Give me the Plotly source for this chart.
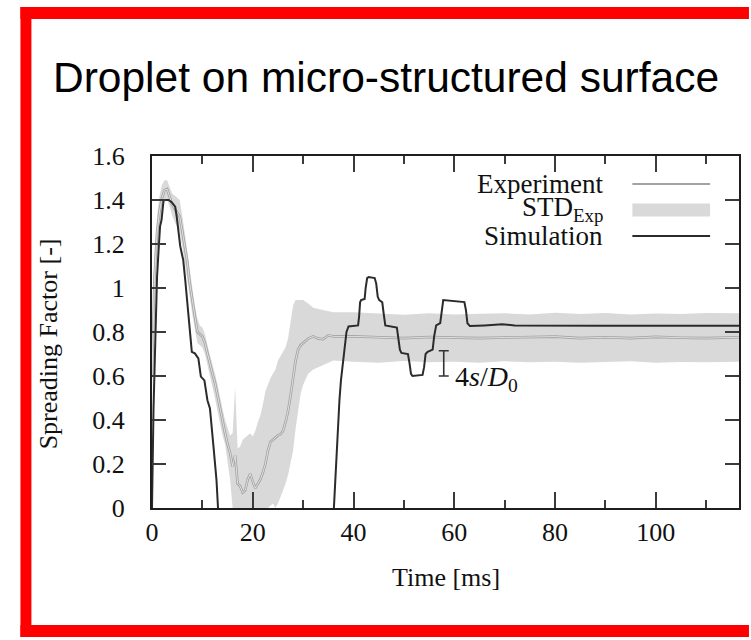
import plotly.graph_objects as go

# ---------------- data ----------------
exp_t = [0, 0.5, 1.0, 1.5, 2.0, 2.5, 3.0, 3.5, 4.0, 4.5, 5.0, 5.5, 6.0, 6.5, 7.0, 7.5, 8.0, 8.5,
         9.0, 9.5, 10.0, 10.5, 11.0, 11.5, 12.0, 12.5, 13.0, 13.5, 14.0, 14.5, 15.0, 15.5, 16.0,
         16.5, 17.0, 17.5, 18.0, 18.5, 19.0, 19.5, 20.0, 20.5, 21.0, 21.5, 22.0, 22.5, 23.0, 23.5,
         24.0, 24.5, 25.0, 25.5, 26.0, 26.5, 27.0, 27.5, 28.0, 28.5, 29.0, 29.5, 30.0, 31.0, 32.0,
         33.0, 34.0, 35.0, 36.0, 40, 45, 50, 55, 60, 65, 70, 75, 80, 85, 90, 95, 100, 105, 110, 116.5]
exp_mean = [0.60, 1.05, 1.25, 1.35, 1.41, 1.445, 1.45, 1.41, 1.38, 1.36, 1.34, 1.325, 1.26, 1.19,
            1.12, 1.02, 0.94, 0.87, 0.80, 0.79, 0.78, 0.75, 0.70, 0.66, 0.61, 0.57, 0.51, 0.445,
            0.39, 0.34, 0.29, 0.25, 0.19, 0.24, 0.11, 0.10, 0.07, 0.08, 0.13, 0.155, 0.12, 0.09,
            0.11, 0.13, 0.16, 0.20, 0.26, 0.30, 0.31, 0.32, 0.33, 0.335, 0.35, 0.39, 0.44, 0.51,
            0.60, 0.67, 0.72, 0.74, 0.75, 0.77, 0.78, 0.77, 0.768, 0.785, 0.78, 0.78, 0.776, 0.772,
            0.777, 0.775, 0.772, 0.775, 0.777, 0.779, 0.772, 0.776, 0.772, 0.778, 0.774, 0.772, 0.776]
exp_upper = [0.70, 1.15, 1.33, 1.42, 1.47, 1.49, 1.49, 1.46, 1.43, 1.42, 1.41, 1.40, 1.33, 1.25,
             1.17, 1.07, 0.99, 0.92, 0.86, 0.83, 0.82, 0.79, 0.74, 0.70, 0.66, 0.61, 0.56, 0.50,
             0.45, 0.40, 0.36, 0.33, 0.34, 0.55, 0.27, 0.28, 0.31, 0.32, 0.33, 0.34, 0.325, 0.35,
             0.39, 0.42, 0.47, 0.53, 0.56, 0.59, 0.61, 0.63, 0.67, 0.69, 0.71, 0.73, 0.77, 0.84,
             0.92, 0.945, 0.945, 0.945, 0.945, 0.93, 0.91, 0.905, 0.90, 0.892, 0.89, 0.89, 0.885,
             0.878, 0.885, 0.88, 0.883, 0.885, 0.88, 0.887, 0.882, 0.886, 0.88, 0.884, 0.882, 0.886, 0.885]
exp_lower = [0.50, 0.95, 1.17, 1.28, 1.35, 1.39, 1.40, 1.37, 1.33, 1.30, 1.28, 1.26, 1.19, 1.12,
             1.05, 0.96, 0.88, 0.81, 0.75, 0.74, 0.73, 0.70, 0.65, 0.61, 0.56, 0.50, 0.44, 0.38,
             0.33, 0.29, 0.21, 0.13, 0.0, 0.0, 0.0, 0.0, 0.0, 0.0, 0.0, 0.0, 0.0, 0.0,
             0.0, 0.0, 0.0, 0.0, 0.0, 0.01, 0.02, 0.0, 0.02, 0.05, 0.08, 0.11, 0.15, 0.20,
             0.26, 0.36, 0.45, 0.52, 0.56, 0.61, 0.63, 0.64, 0.65, 0.66, 0.67, 0.665, 0.66,
             0.668, 0.662, 0.665, 0.66, 0.667, 0.662, 0.665, 0.66, 0.664, 0.667, 0.66, 0.664, 0.662, 0.665]

sim_t = [0, 0.3, 0.75, 1.0, 1.3, 1.6, 1.9, 2.3, 2.7, 3.3, 3.9, 4.6, 4.9, 5.2, 5.6, 5.9, 6.2, 6.6,
         6.9, 7.2, 7.5, 7.9, 8.5, 9.2, 9.7, 10.4, 11.0, 11.5, 12.2, 12.8, 13.1,
         20.0,
         36.1, 36.6, 37.2, 37.5, 38.2, 38.6, 39.0, 40.9, 41.1, 41.3, 41.5, 42.2, 42.4, 42.7, 43.0,
         44.2, 44.5, 44.8, 45.1, 45.7, 46.0, 46.3, 48.6, 48.9, 49.2, 49.5, 50.8, 51.1, 51.4, 51.7,
         53.7, 54.0, 54.3, 54.7, 55.7, 56.0, 56.4, 57.2, 57.5, 57.8, 62.0, 62.3, 62.6, 63.1, 66,
         69.5, 72, 80, 90, 100, 110, 116.5]
sim_y = [0.0, 0.45, 0.84, 1.05, 1.17, 1.28, 1.31, 1.40, 1.40, 1.40, 1.39, 1.37, 1.325, 1.264,
         1.19, 1.158, 1.127, 1.036, 0.96, 0.87, 0.80, 0.71, 0.703, 0.68, 0.597, 0.58, 0.49, 0.453,
         0.28, 0.127, 0.0,
         None,
         0.0, 0.25, 0.49, 0.58, 0.73, 0.80, 0.825, 0.83, 0.87, 0.935, 0.945, 0.95, 1.0, 1.045,
         1.05, 1.045, 1.02, 0.96, 0.945, 0.935, 0.88, 0.83, 0.82, 0.78, 0.72, 0.705, 0.70, 0.66,
         0.61, 0.60, 0.605, 0.64, 0.70, 0.71, 0.72, 0.78, 0.83, 0.84, 0.90, 0.945, 0.936, 0.90,
         0.84, 0.827, 0.83, 0.835, 0.83, 0.828, 0.828, 0.828, 0.828, 0.828]

# scale bar "4s/D0"
bar_t = [57.9]
bar_center = [0.6575]
bar_half = [0.0575]

y_ticks = [0, 0.2, 0.4, 0.6, 0.8, 1.0, 1.2, 1.4, 1.6]
x_ticks = [0, 20, 40, 60, 80, 100]

# ---------------- style ----------------
SERIF = "Liberation Serif"
BAND = "#d9d9d9"
EXP = "#a3a3a3"
SIM = "#2b2b2b"
AX = "#1e1e1e"
RED = "#ff0000"

L, R, T, B = 152, 10, 156, 132
W, H = 751, 640
pw, ph = W - L - R, H - T - B


def px(x):
    return (x - L) / pw


def py(y):
    return (H - B - y) / ph


fig = go.Figure()

fig.add_trace(go.Scatter(x=exp_t, y=exp_lower, mode="lines", line=dict(width=0, color=BAND),
                         hoverinfo="skip", showlegend=False))
fig.add_trace(go.Scatter(x=exp_t, y=exp_upper, mode="lines", line=dict(width=0, color=BAND),
                         fill="tonexty", fillcolor=BAND, hoverinfo="skip", showlegend=False))
fig.add_trace(go.Scatter(x=exp_t, y=exp_mean, mode="lines", line=dict(width=2.6, color=EXP),
                         showlegend=False))
fig.add_trace(go.Scatter(x=exp_t, y=exp_mean, mode="lines", line=dict(width=0.8, color="#efefef"),
                         showlegend=False, hoverinfo="skip"))
fig.add_trace(go.Scatter(x=sim_t, y=sim_y, mode="lines", line=dict(width=2, color=SIM),
                         connectgaps=False, showlegend=False))
fig.add_trace(go.Scatter(x=bar_t, y=bar_center, mode="markers", marker=dict(size=1, opacity=0),
                         error_y=dict(type="data", array=bar_half, color="#333333", thickness=1.6,
                                      width=5),
                         showlegend=False, hoverinfo="skip"))

axis_common = dict(showline=True, linecolor=AX, linewidth=2, mirror="ticks", ticks="inside",
                   tickcolor="#3a3a3a", tickwidth=1.5, showgrid=False, zeroline=False,
                   tickfont=dict(family=SERIF, size=26, color="#111"))

fig.update_xaxes(range=[0, 116.5], tickvals=x_ticks, ticklen=16,
                 minor=dict(dtick=10, tick0=0, ticks="inside", ticklen=8, tickcolor="#3a3a3a",
                            tickwidth=1.5),
                 ticklabelstandoff=0, **axis_common)
fig.update_yaxes(range=[0, 1.6], tickvals=y_ticks, ticklen=14, ticklabelstandoff=20,
                 **axis_common)

annotations = [
    dict(text="Droplet on micro-structured surface", x=px(51), y=py(78), xref="paper",
         yref="paper", xanchor="left", yanchor="middle", showarrow=False,
         font=dict(family="Liberation Sans", size=42.5, color="#000")),
    dict(text="Time [ms]", x=px(447), y=py(577), xref="paper", yref="paper", xanchor="center",
         yanchor="middle", showarrow=False, font=dict(family=SERIF, size=26, color="#111")),
    dict(text="Spreading Factor [-]", x=px(48), y=py(344), xref="paper", yref="paper",
         xanchor="center", yanchor="middle", textangle=-90, showarrow=False,
         font=dict(family=SERIF, size=26, color="#111")),
    dict(text="4<i>s</i>/<i>D</i><sub>0</sub>", x=59.8, y=0.59, xref="x", yref="y",
         xanchor="left", yanchor="middle", showarrow=False,
         font=dict(family=SERIF, size=28, color="#111")),
]
leg = [("Experiment", 184), ("STD<sub>Exp</sub>", 209), ("Simulation", 236)]
for txt, yy in leg:
    annotations.append(dict(text=txt, x=px(607), y=py(yy), xref="paper", yref="paper",
                            xanchor="right", yanchor="middle", showarrow=False,
                            font=dict(family=SERIF, size=27, color="#111")))

shapes = [
    dict(type="line", xref="paper", yref="paper", x0=px(634), x1=px(712), y0=py(184), y1=py(184),
         line=dict(color=EXP, width=2)),
    dict(type="rect", xref="paper", yref="paper", x0=px(634), x1=px(712), y0=py(203.5),
         y1=py(216.5), line=dict(width=0), fillcolor=BAND),
    dict(type="line", xref="paper", yref="paper", x0=px(634), x1=px(712), y0=py(236), y1=py(236),
         line=dict(color=SIM, width=2)),
    # red frame (left, top, bottom; open on the right as in the cropped original)
    dict(type="rect", xref="paper", yref="paper", x0=px(20), x1=px(31), y0=py(7), y1=py(637),
         line=dict(width=0), fillcolor=RED),
    dict(type="rect", xref="paper", yref="paper", x0=px(20), x1=px(751), y0=py(7), y1=py(19),
         line=dict(width=0), fillcolor=RED),
    dict(type="rect", xref="paper", yref="paper", x0=px(20), x1=px(751), y0=py(625), y1=py(637),
         line=dict(width=0), fillcolor=RED),
]

fig.update_layout(width=W, height=H, margin=dict(l=L, r=R, t=T, b=B),
                  paper_bgcolor="white", plot_bgcolor="white",
                  annotations=annotations, shapes=shapes, showlegend=False)

fig.write_html("out.html")
